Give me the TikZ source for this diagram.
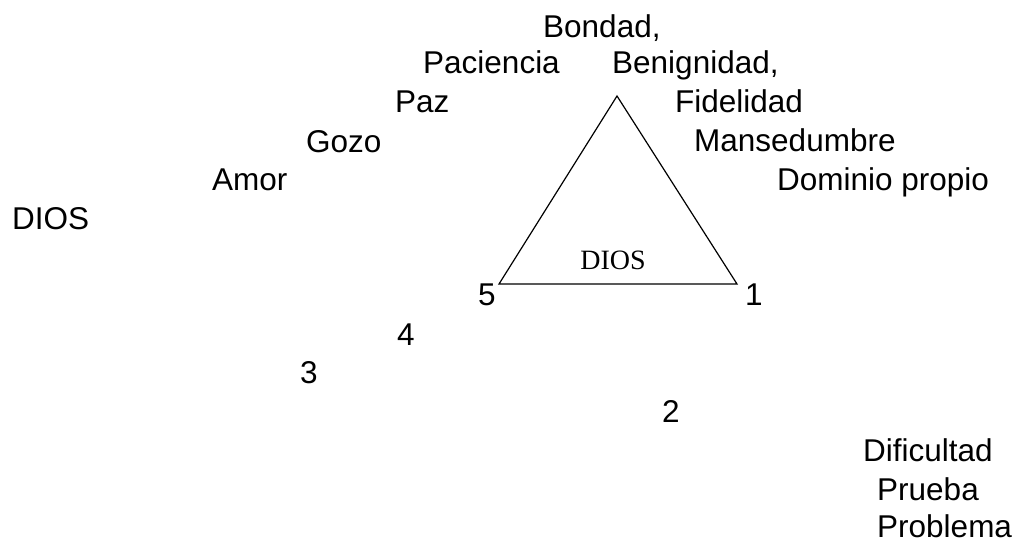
\documentclass[tikz,border=0pt]{standalone}
\usepackage{fontspec}
\setmainfont{Liberation Sans}
\newfontfamily\serifdios{Liberation Serif}
\begin{document}
\begin{tikzpicture}[x=1pt,y=-1pt,
  lbl/.style={anchor=base west,inner sep=0pt,font=\fontsize{31.5}{38}\selectfont},
  inlbl/.style={anchor=base,inner sep=0pt,font=\serifdios\fontsize{28}{32}\selectfont},
  edge/.style={draw=black,line width=1.2pt,line join=miter}]
\useasboundingbox (0,0) rectangle (1016,542);
% triangle
\coordinate (top) at (617,96);
\coordinate (bl) at (499,284);
\coordinate (br) at (737,284);
\draw[edge] (top) -- (br) -- (bl) -- cycle;
\node[inlbl] (diosin) at (613,269) {DIOS};
% left fruits
\node[lbl] (bondad) at (543,37) {Bondad,};
\node[lbl] (paciencia) at (423,73) {Paciencia};
\node[lbl] (benignidad) at (612,73) {Benignidad,};
\node[lbl] (paz) at (395,112) {Paz};
\node[lbl] (fidelidad) at (675,112) {Fidelidad};
\node[lbl] (gozo) at (306,152) {Gozo};
\node[lbl] (mansedumbre) at (694,151) {Mansedumbre};
\node[lbl] (amor) at (212,190) {Amor};
\node[lbl] (dominio) at (777,190) {Dominio propio};
\node[lbl] (dios) at (12,229) {DIOS};
% numbers
\node[lbl] (n5) at (478,305) {5};
\node[lbl] (n1) at (745,305) {1};
\node[lbl] (n4) at (397,345) {4};
\node[lbl] (n3) at (300,383) {3};
\node[lbl] (n2) at (662,422) {2};
% bottom right
\node[lbl] (dificultad) at (863,461) {Dificultad};
\node[lbl] (prueba) at (877,500) {Prueba};
\node[lbl] (problema) at (877,537) {Problema};
\end{tikzpicture}
\end{document}
